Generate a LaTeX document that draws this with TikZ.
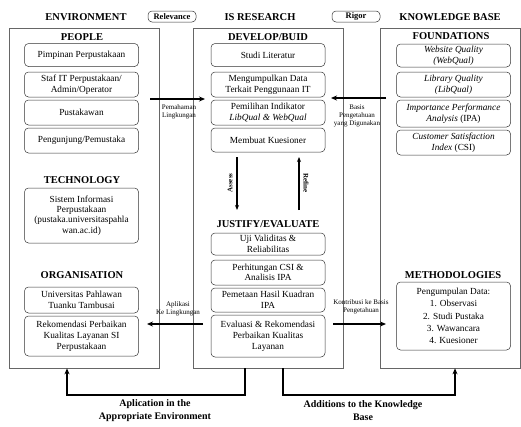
\documentclass[tikz,border=0pt]{standalone}
\usepackage{fontspec}
\setmainfont{Liberation Serif}
\usetikzlibrary{arrows.meta}
\begin{document}
\begin{tikzpicture}[x=1pt,y=-1pt,
  panel/.style={draw=black!60, line width=0.6pt, inner sep=0pt},
  hd/.style={font=\bfseries\fontsize{10.5}{11}\selectfont, inner sep=0pt},
  sub/.style={font=\bfseries\fontsize{10.5}{11}\selectfont, inner sep=0pt},
  bx/.style={draw=black!80, line width=0.5pt, rounded corners=4pt, minimum width=114pt, align=center, inner sep=1pt, font=\fontsize{9.3}{10.6}\selectfont},
  tag/.style={draw=black!80, line width=0.5pt, rounded corners=4pt, minimum width=48pt, minimum height=11pt, inner sep=0pt, font=\bfseries\fontsize{8.5}{9}\selectfont},
  lbl/.style={font=\fontsize{7}{7.8}\selectfont, align=center, inner sep=0pt},
  big/.style={font=\bfseries\fontsize{10}{13}\selectfont, align=center, inner sep=0pt},
  arr/.style={-{Stealth[length=6pt,width=5pt]}, line width=1.6pt},
  varr/.style={-{Stealth[length=5pt,width=4pt]}, line width=1.3pt}]
\useasboundingbox (0,0) rectangle (521,426);
% headers
\node[hd] (envH) at (86,17) {ENVIRONMENT};
\node[tag] (relev) at (172,16.5) {Relevance};
\node[hd] (isH) at (260,17) {IS RESEARCH};
\node[tag] (rigor) at (356,16.5) {Rigor};
\node[hd] (kbH) at (450,17) {KNOWLEDGE BASE};
% panels
\node[panel, minimum width=150pt, minimum height=340pt] (envP) at (84,198) {};
\node[panel, minimum width=150pt, minimum height=340pt] (isP) at (268,198) {};
\node[panel, minimum width=140pt, minimum height=340pt] (kbP) at (450,198) {};
% environment
\node[sub] (people) at (82,37) {PEOPLE};
\node[bx, minimum height=23pt] (b1) at (81.5,55) {Pimpinan Perpustakaan};
\node[bx, minimum height=25pt] (b2) at (81.5,84.5) {Staf IT Perpustakaan/\\Admin/Operator};
\node[bx, minimum height=25pt] (b3) at (81.5,112.5) {Pustakawan};
\node[bx, minimum height=25pt] (b4) at (81.5,140.5) {Pengunjung/Pemustaka};
\node[sub] (tech) at (82,180) {TECHNOLOGY};
\node[bx, minimum height=55pt, font=\fontsize{9.3}{10.4}\selectfont] (b5) at (81.5,215.5) {Sistem Informasi\\Perpustakaan\\(pustaka.universitaspahla\\wan.ac.id)};
\node[sub] (org) at (82,275) {ORGANISATION};
\node[bx, minimum height=26pt] (b6) at (81.5,300) {Universitas Pahlawan\\Tuanku Tambusai};
\node[bx, minimum height=40pt, font=\fontsize{9.3}{10.8}\selectfont] (b7) at (81.5,336) {Rekomendasi Perbaikan\\Kualitas Layanan SI\\Perpustakaan};
% IS research
\node[sub] (dev) at (268,37) {DEVELOP/BUID};
\node[bx, minimum height=23pt] (m1) at (268,55) {Studi Literatur};
\node[bx, minimum height=25pt] (m2) at (268,84.5) {Mengumpulkan Data\\Terkait Penggunaan IT};
\node[bx, minimum height=25pt] (m3) at (268,112.5) {Pemilihan Indikator\\\textit{LibQual \& WebQual}};
\node[bx, minimum height=24pt] (m4) at (268,140) {Membuat Kuesioner};
\node[sub] (just) at (268,224) {JUSTIFY/EVALUATE};
\node[bx, minimum height=22pt] (m5) at (268,244) {Uji Validitas \&\\Reliabilitas};
\node[bx, minimum height=25pt] (m6) at (268,272.5) {Perhitungan CSI \&\\Analisis IPA};
\node[bx, minimum height=24pt] (m7) at (268,300) {Pemetaan Hasil Kuadran\\IPA};
\node[bx, minimum height=42pt, font=\fontsize{9.3}{11}\selectfont] (m8) at (268,336) {Evaluasi \& Rekomendasi\\Perbaikan Kualitas\\Layanan};
\coordinate (aT) at (237,157); \coordinate (aB) at (237,210);
\coordinate (rT) at (299,157); \coordinate (rB) at (299,210);
\draw[varr] (aT) -- (aB);
\draw[varr] (rB) -- (rT);
\node[lbl, rotate=90, font=\bfseries\fontsize{7}{7}\selectfont] (assess) at (230,183) {Assess};
\node[lbl, rotate=-90, font=\bfseries\fontsize{7}{7}\selectfont] (refine) at (306,183) {Refine};
% knowledge base
\node[sub] (found) at (451,36) {FOUNDATIONS};
\node[bx, minimum height=23pt, font=\itshape\fontsize{9.3}{10.6}\selectfont] (k1) at (453.5,55.5) {Website Quality\\(WebQual)};
\node[bx, minimum height=25pt, font=\itshape\fontsize{9.3}{10.6}\selectfont] (k2) at (453.5,84.5) {Library Quality\\(LibQual)};
\node[bx, minimum height=27pt, font=\itshape\fontsize{9.3}{10.6}\selectfont] (k3) at (453.5,113.5) {Importance Performance\\Analysis \textup{(IPA)}};
\node[bx, minimum height=25pt, font=\itshape\fontsize{9.3}{10.6}\selectfont] (k4) at (453.5,142.5) {Customer Satisfaction\\Index \textup{(CSI)}};
\node[sub] (meth) at (453,275) {METHODOLOGIES};
\node[bx, minimum height=68pt, font=\fontsize{9.3}{12.2}\selectfont] (k5) at (453.5,316) {Pengumpulan Data:\\1. Observasi\\2. Studi Pustaka\\3. Wawancara\\4. Kuesioner};
% horizontal arrows
\coordinate (p1) at (150,99); \coordinate (p2) at (205,99);
\draw[arr] (p1) -- (p2);
\node[lbl] (l1) at (179,112) {Pemahaman\\Lingkungan};
\coordinate (q1) at (386,98); \coordinate (q2) at (331,98);
\draw[arr] (q1) -- (q2);
\node[lbl] (l2) at (357,116) {Basis\\Pengetahuan\\yang Digunakan};
\coordinate (r1) at (203,324); \coordinate (r2) at (147,324);
\draw[arr] (r1) -- (r2);
\node[lbl] (l3) at (178,309) {Aplikasi\\Ke Lingkungan};
\coordinate (s1) at (333,324); \coordinate (s2) at (386,324);
\draw[arr] (s1) -- (s2);
\node[lbl] (l4) at (361,307) {Kontribusi ke Basis\\Pengetahuan};
% bottom arrows
\coordinate (c1) at (245,395); \coordinate (c2) at (67,395);
\draw[arr] (isP.south -| c1) -- (c1) -- (c2) -- (envP.south -| c2);
\coordinate (d1) at (283,395); \coordinate (d2) at (455,395);
\draw[arr] (isP.south -| d1) -- (d1) -- (d2) -- (kbP.south -| d2);
\node[big] (bl1) at (155,411) {Aplication in the\\Appropriate Environment};
\node[big] (bl2) at (363,411) {Additions to the Knowledge\\Base};
\end{tikzpicture}
\end{document}
